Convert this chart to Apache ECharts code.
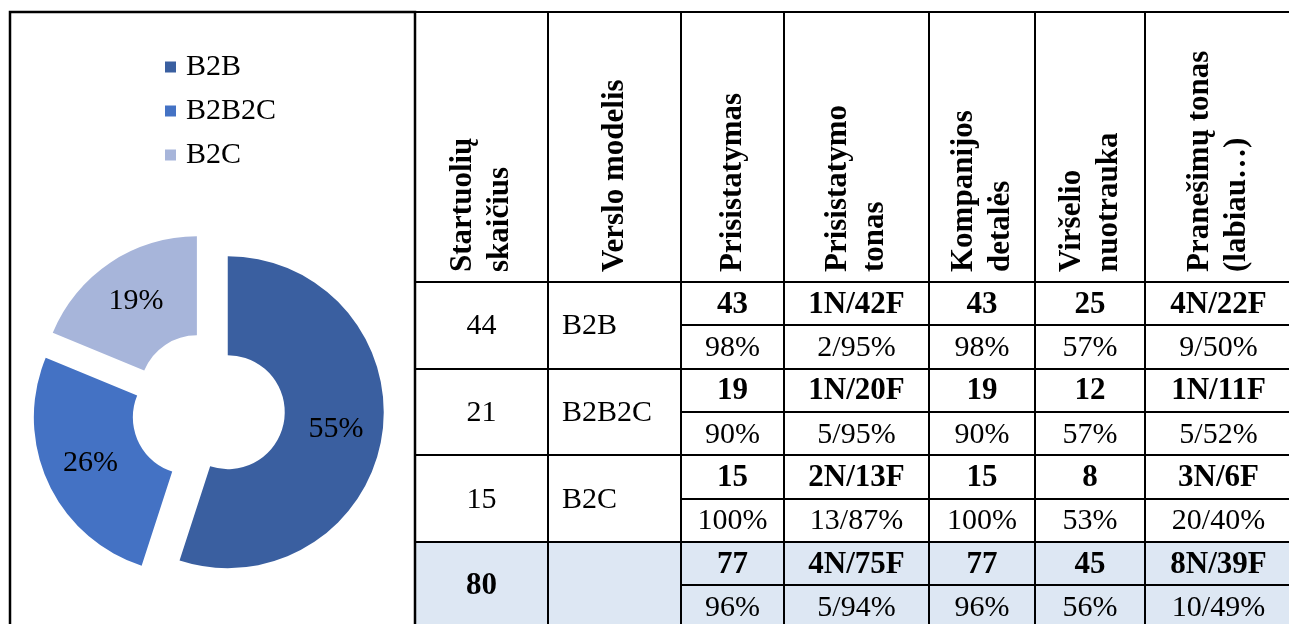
<!DOCTYPE html>
<html>
<head>
<meta charset="utf-8">
<script src="https://cdn.jsdelivr.net/npm/echarts@6/dist/echarts.min.js"></script>
<style>
  html, body { margin: 0; padding: 0; background: #fff; }
  #main { width: 1289px; height: 624px; }
</style>
</head>
<body>
<div id="main"></div>
<script>
// ---------- data ----------
const categories = ['B2B', 'B2B2C', 'B2C'];
const startupCounts = [44, 21, 15];
const totalCount = '80';
const headerLabels = [
  'Startuolių\nskaičius',
  'Verslo modelis',
  'Prisistatymas',
  'Prisistatymo\ntonas',
  'Kompanijos\ndetalės',
  'Viršelio\nnuotrauka',
  'Pranešimų tonas\n(labiau…)'
];
const countsB2B    = ['43', '1N/42F', '43', '25', '4N/22F'];
const sharesB2B    = ['98%', '2/95%', '98%', '57%', '9/50%'];
const countsB2B2C  = ['19', '1N/20F', '19', '12', '1N/11F'];
const sharesB2B2C  = ['90%', '5/95%', '90%', '57%', '5/52%'];
const countsB2C    = ['15', '2N/13F', '15', '8', '3N/6F'];
const sharesB2C    = ['100%', '13/87%', '100%', '53%', '20/40%'];
const countsTotal  = ['77', '4N/75F', '77', '45', '8N/39F'];
const sharesTotal  = ['96%', '5/94%', '96%', '56%', '10/49%'];

// ---------- styles / layout ----------
const sliceColors = ['#3A5FA0', '#4472C4', '#A7B5DA'];
const SERIF = '"Liberation Serif", "Times New Roman", serif';
const colX = [415, 548, 681, 784, 929, 1035, 1145, 1292];
const tableTop = 12;
const headerBottom = 282;
const subH = 43.33;
const tableBottom = 660;

const bodyCounts = [countsB2B, countsB2B2C, countsB2C, countsTotal];
const bodyShares = [sharesB2B, sharesB2B2C, sharesB2C, sharesTotal];
const firstCol = startupCounts.map(String).concat([totalCount]);
const secondCol = categories.concat(['']);

const els = [];
// total row fill
const totalTop = Math.round(headerBottom + 6 * subH);
els.push({ type: 'rect', z: 1, silent: true,
  shape: { x: colX[0], y: totalTop, width: colX[7] - colX[0], height: tableBottom - totalTop },
  style: { fill: '#DDE7F3' } });
// chart box
els.push({ type: 'rect', z: 5, silent: true,
  shape: { x: 10, y: tableTop, width: colX[0] - 10, height: tableBottom - tableTop },
  style: { fill: 'none', stroke: '#000', lineWidth: 2.5 } });
function hline(y, x1, x2) {
  els.push({ type: 'line', z: 5, silent: true, shape: { x1: x1 - 1, y1: y, x2: x2, y2: y }, style: { stroke: '#000', lineWidth: 2 } });
}
function vline(x, y1, y2) {
  els.push({ type: 'line', z: 5, silent: true, shape: { x1: x, y1: y1 - 1, x2: x, y2: y2 }, style: { stroke: '#000', lineWidth: 2 } });
}
hline(tableTop, colX[0], colX[7]);
colX.forEach(function (x) { vline(x, tableTop, tableBottom); });
for (let r = 0; r < 4; r++) {
  const top = Math.round(headerBottom + r * 2 * subH);
  hline(top, colX[0], colX[7]);
  hline(Math.round(headerBottom + (r * 2 + 1) * subH), colX[2], colX[7]);
}
function txt(x, y, text, font, align, extra) {
  const e = { type: 'text', z: 10, silent: true, x: x, y: y,
    style: { text: text, font: font, fill: '#000',
      align: align, verticalAlign: 'middle', textAlign: align, textVerticalAlign: 'middle' } };
  if (extra) Object.assign(e, extra);
  return e;
}
// header
headerLabels.forEach(function (h, i) {
  const cx = (colX[i] + colX[i + 1]) / 2;
  const e = txt(cx, 272, h, 'bold 31px ' + SERIF, 'left', { rotation: Math.PI / 2 });
  e.style.lineHeight = 37;
  els.push(e);
});
// body
for (let r = 0; r < 4; r++) {
  const top = headerBottom + r * 2 * subH;
  const bold = r === 3;
  els.push(txt((colX[0] + colX[1]) / 2, top + subH + 1, firstCol[r], (bold ? 'bold 31px ' : '30px ') + SERIF, 'center'));
  if (secondCol[r]) els.push(txt(colX[1] + 14, top + subH + 1, secondCol[r], '30px ' + SERIF, 'left'));
  for (let c = 0; c < 5; c++) {
    const cx = (colX[c + 2] + colX[c + 3]) / 2;
    els.push(txt(cx, top + subH / 2 + 1, bodyCounts[r][c], 'bold 31px ' + SERIF, 'center'));
    els.push(txt(cx, top + subH * 1.5 + 1, bodyShares[r][c], '30px ' + SERIF, 'center'));
  }
}

const chart = echarts.init(document.getElementById('main'), null, { renderer: 'canvas' });
chart.setOption({
  animation: false,
  backgroundColor: '#fff',
  legend: {
    orient: 'vertical',
    left: 165,
    top: 50,
    padding: 0,
    icon: 'rect',
    itemWidth: 11,
    itemHeight: 11,
    itemGap: 10,
    selectedMode: false,
    data: categories,
    textStyle: { fontFamily: SERIF, fontSize: 30, color: '#000', lineHeight: 34, padding: [0, 0, 0, 5] }
  },
  series: [{
    type: 'pie',
    center: [208, 409],
    radius: [57, 156],
    startAngle: 90,
    clockwise: true,
    selectedMode: 'multiple',
    selectedOffset: 20,
    avoidLabelOverlap: false,
    emphasis: { disabled: true },
    label: {
      show: true,
      position: 'inside',
      color: '#000',
      fontFamily: SERIF,
      fontSize: 30,
      formatter: function (p) { return Math.round(p.percent) + '%'; }
    },
    labelLine: { show: false },
    data: categories.map(function (c, i) {
      return { name: c, value: startupCounts[i], selected: true, itemStyle: { color: sliceColors[i] } };
    })
  }],
  graphic: { elements: els }
});
</script>
</body>
</html>
